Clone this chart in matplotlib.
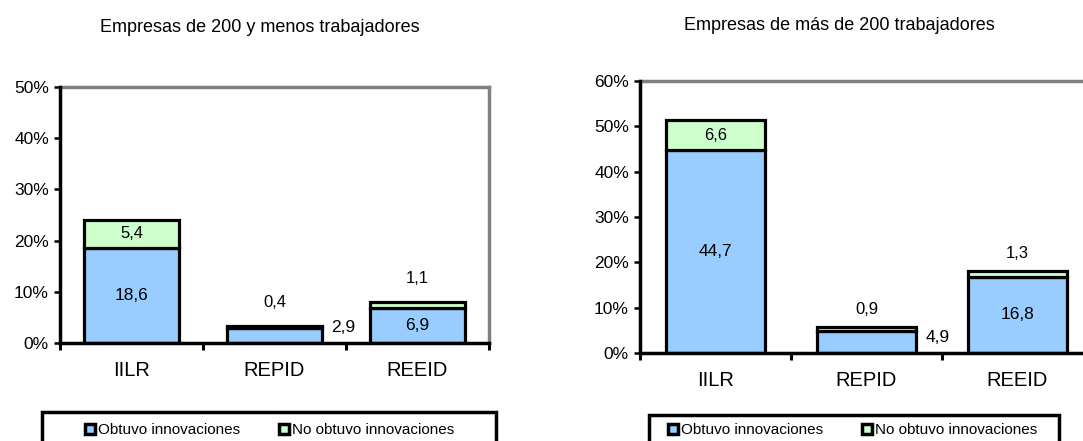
import matplotlib
matplotlib.use('Agg')
import matplotlib.pyplot as plt
from matplotlib.lines import Line2D
from matplotlib.patches import Rectangle
import matplotlib.ticker as ticker

plt.rcParams['font.family'] = ['Liberation Sans', 'DejaVu Sans']

categories = ['IILR', 'REPID', 'REEID']
series_names = ['Obtuvo innovaciones', 'No obtuvo innovaciones']

small_title = 'Empresas de 200 y menos trabajadores'
small_obtuvo = [18.6, 2.9, 6.9]
small_no_obtuvo = [5.4, 0.4, 1.1]

big_title = 'Empresas de más de 200 trabajadores'
big_obtuvo = [44.7, 4.9, 16.8]
big_no_obtuvo = [6.6, 0.9, 1.3]

blue = '#99CCFF'
green = '#CCFFCC'
W, H = 1083, 441


def fmt(v):
    return f'{v:.1f}'.replace('.', ',')


def draw_panel(fig, rect, obt, no_obt, ymax, top_off):
    ax = fig.add_axes(rect)
    x = range(len(categories))
    ax.bar(x, obt, width=0.66, color=blue, edgecolor='black', linewidth=2.3, zorder=2)
    ax.bar(x, no_obt, width=0.66, bottom=obt, color=green, edgecolor='black',
           linewidth=2.3, zorder=2)
    ax.set_xlim(-0.5, 2.5)
    ax.set_ylim(0, ymax)
    ax.yaxis.set_major_locator(ticker.MultipleLocator(10))
    ax.yaxis.set_major_formatter(ticker.FuncFormatter(lambda v, p: f'{int(v)}%'))
    ax.set_xticks(list(x))
    ax.set_xticklabels(categories, fontsize=14.5)
    ax.xaxis.set_minor_locator(ticker.FixedLocator([-0.5, 0.5, 1.5, 2.5]))
    ax.tick_params(axis='x', which='major', length=0, pad=13)
    ax.tick_params(axis='x', which='minor', length=5, width=2.2, direction='out')
    ax.tick_params(axis='y', length=4, width=1.8, direction='out', labelsize=12.5, pad=4)
    for s in ['left', 'bottom']:
        ax.spines[s].set_linewidth(2.5)
        ax.spines[s].set_color('black')
        ax.spines[s].set_zorder(3)
    for s in ['top', 'right']:
        ax.spines[s].set_linewidth(2.5)
        ax.spines[s].set_color('#808080')

    # data labels, placed roughly where the original puts them
    for i in x:
        total = obt[i] + no_obt[i]
        if i == 1:
            ax.annotate(fmt(obt[i]), (i + 0.33, 0), xytext=(21, 16),
                        textcoords='offset pixels', ha='center', va='center', fontsize=12.5)
        else:
            ax.text(i, obt[i] / 2, fmt(obt[i]), ha='center', va='center', fontsize=12.5, zorder=4)
        if no_obt[i] >= 3:
            ax.text(i, obt[i] + no_obt[i] / 2, fmt(no_obt[i]), ha='center', va='center',
                    fontsize=12, zorder=4)
        else:
            ax.annotate(fmt(no_obt[i]), (i, total), xytext=(0, top_off),
                        textcoords='offset pixels', ha='center', va='center', fontsize=12)
    return ax


def legend_box(fig, x0, x1, ytop, ytext, cx):
    fig.patches.append(Rectangle((x0 / W, -0.05), (x1 - x0) / W, 1 - ytop / H + 0.05,
                                 transform=fig.transFigure, fill=False,
                                 edgecolor='black', linewidth=2.5))
    handles = [Line2D([], [], marker='s', linestyle='none', markersize=7,
                      markerfacecolor=c, markeredgecolor='black', markeredgewidth=2.5)
               for c in [blue, green]]
    fig.legend(handles, series_names, loc='center', bbox_to_anchor=(cx / W, 1 - ytext / H),
               ncol=2, frameon=False, fontsize=11, handlelength=0.6, handletextpad=0.2,
               columnspacing=2.6, borderpad=0)


fig = plt.figure(figsize=(10.83, 4.41), dpi=100)

draw_panel(fig, [60 / W, 1 - 343 / H, 429 / W, 256 / H], small_obtuvo, small_no_obtuvo, 50, 24)
draw_panel(fig, [640 / W, 1 - 353 / H, 453 / W, 272 / H], big_obtuvo, big_no_obtuvo, 60, 17)

fig.text(260 / W, 1 - 27 / H, small_title, ha='center', va='center', fontsize=13)
fig.text(839 / W, 1 - 25 / H, big_title, ha='center', va='center', fontsize=13)

legend_box(fig, 42, 496, 412, 430, 270)
legend_box(fig, 649, 1059, 415, 430, 853)

fig.savefig('out.png', dpi=100)
